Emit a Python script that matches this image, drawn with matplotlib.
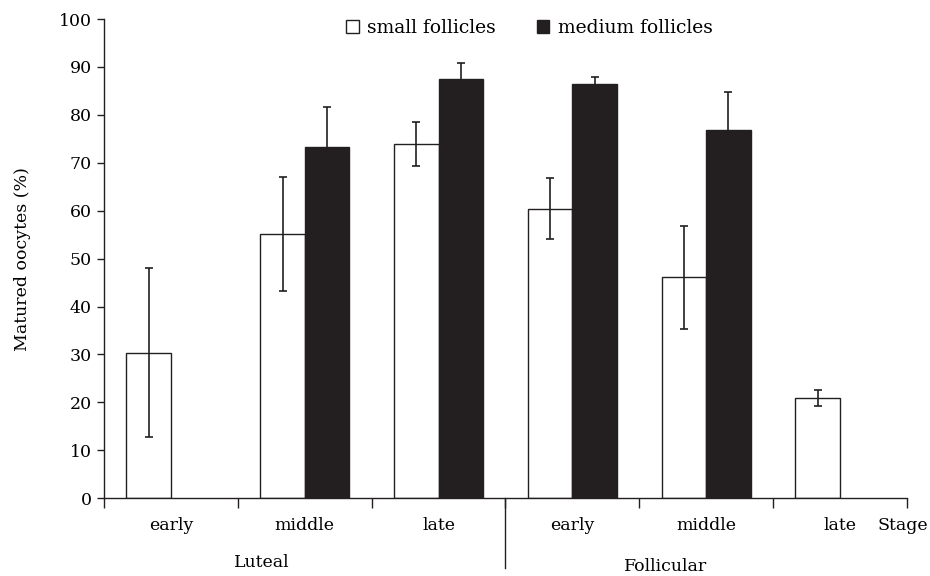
import numpy as np
import matplotlib.pyplot as plt
from matplotlib.patches import Patch

plt.rcParams['font.family'] = ['DejaVu Serif']

# data
stages = ['early', 'middle', 'late', 'early', 'middle', 'late']
phases = ['Luteal', 'Follicular']
small_mean = [30.4, 55.2, 74.0, 60.4, 46.1, 20.9]
small_err = [17.7, 11.9, 4.6, 6.4, 10.7, 1.6]
medium_mean = [np.nan, 73.2, 87.4, 86.4, 76.9, np.nan]
medium_err = [np.nan, 8.5, 3.5, 1.5, 7.9, np.nan]

dark = '#231f20'
fs = 12.5

fig = plt.figure(figsize=(9.3, 5.76), dpi=100)
ax = fig.add_axes([0.112, 0.135, 0.863, 0.832])

x = np.arange(len(stages))
w = 1 / 3

# bars
ax.bar(x + w, small_mean, width=w, color='white', edgecolor=dark, linewidth=1.0, zorder=2)
ax.bar(x + 2 * w, medium_mean, width=w, color=dark, edgecolor=dark, linewidth=1.0, zorder=2)

# error bars
ax.errorbar(x + w, small_mean, yerr=small_err, fmt='none', ecolor=dark,
            elinewidth=1.2, capsize=2.6, capthick=1.2, zorder=3)
ax.errorbar(x + 2 * w, medium_mean, yerr=medium_err, fmt='none', ecolor=dark,
            elinewidth=1.2, capsize=2.6, capthick=1.2, zorder=1)

ax.set_xlim(0, 6)
ax.set_ylim(0, 100)
ax.set_yticks(np.arange(0, 101, 10))
ax.set_xticks(np.arange(0, 7))
ax.set_xticklabels([])

for s in ['top', 'right']:
    ax.spines[s].set_visible(False)
for s in ['left', 'bottom']:
    ax.spines[s].set_color(dark)
    ax.spines[s].set_linewidth(1.0)

ax.tick_params(axis='y', direction='out', length=5, width=1, color=dark,
               labelsize=fs, pad=4)
ax.tick_params(axis='x', direction='out', length=7, width=1, color=dark)

ax.set_ylabel('Matured oocytes (%)', fontsize=fs, labelpad=20)

# stage labels
tr = ax.get_xaxis_transform()
for i, lab in enumerate(stages):
    ax.text(x[i] + 0.5, -0.056, lab, transform=tr, ha='center', va='center', fontsize=fs)
ax.text(0.995, -0.056, 'Stage', transform=ax.transAxes, ha='center', va='center', fontsize=fs)

# phase labels and separator
ax.text(1.18, -0.134, phases[0], transform=tr, ha='center', va='center', fontsize=fs)
ax.text(4.2, -0.142, phases[1], transform=tr, ha='center', va='center', fontsize=fs)
ax.plot([3, 3], [0, -0.146], transform=tr, color=dark, linewidth=1.0, clip_on=False)

# legend
handles = [Patch(facecolor='white', edgecolor=dark, linewidth=1.0),
           Patch(facecolor=dark, edgecolor=dark)]
ax.legend(handles, ['small follicles', 'medium follicles'], loc='upper center',
          bbox_to_anchor=(0.53, 1.035), ncol=2, frameon=False, fontsize=13.5,
          handlelength=0.65, handleheight=0.65, handletextpad=0.45, columnspacing=2.2)

fig.savefig('out.png', dpi=100)
